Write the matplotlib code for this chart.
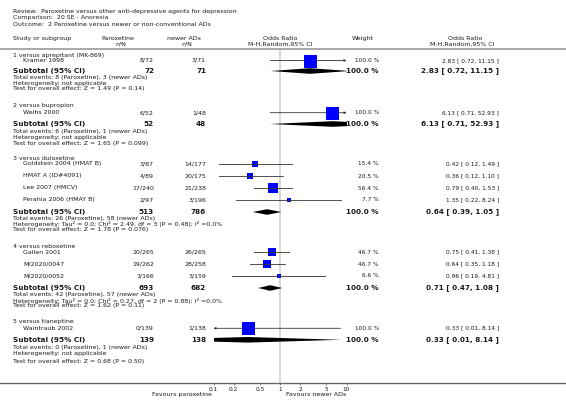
import numpy as np
import matplotlib.pyplot as plt
from matplotlib.lines import Line2D

# Data
review_lines = [
    "Review:  Paroxetine versus other anti-depressive agents for depression",
    "Comparison:  20 SE - Anorexia",
    "Outcome:  2 Paroxetine versus newer or non-conventional ADs",
]
group_titles = [
    "1 versus aprepitant (MK-869)",
    "2 versus bupropion",
    "3 versus duloxetine",
    "4 versus reboxetine",
    "5 versus tianeptine",
]
study_names = [
    ["Kramer 1998"],
    ["Weihs 2000"],
    ["Goldstein 2004 (HMAT B)", "HMAT A (ID#4091)", "Lee 2007 (HMCV)", "Perahia 2006 (HMAY B)"],
    ["Gallen 2001", "M/2020/0047", "M/2020/0052"],
    ["Waintraub 2002"],
]
par_events = [[8], [6], [3, 4, 17, 2], [20, 19, 3], [0]]
par_totals = [[72], [52], [87, 89, 240, 97], [265, 262, 166], [139]]
new_events = [[3], [1], [14, 20, 21, 3], [26, 28, 3], [1]]
new_totals = [[71], [48], [177, 175, 238, 196], [265, 258, 159], [138]]
study_or = [[2.83], [6.13], [0.42, 0.36, 0.79, 1.35], [0.75, 0.64, 0.96], [0.33]]
study_lo = [[0.72], [0.71], [0.12, 0.12, 0.40, 0.22], [0.41, 0.35, 0.19], [0.01]]
study_hi = [[11.15], [52.93], [1.49, 1.10, 1.53, 8.24], [1.38, 1.18, 4.81], [8.14]]
study_weight = [[100.0], [100.0], [15.4, 20.5, 56.4, 7.7], [46.7, 46.7, 6.6], [100.0]]
sub_or = [2.83, 6.13, 0.64, 0.71, 0.33]
sub_lo = [0.72, 0.71, 0.39, 0.47, 0.01]
sub_hi = [11.15, 52.93, 1.05, 1.08, 8.14]
heterogeneity = [
    "Heterogeneity: not applicable",
    "Heterogeneity: not applicable",
    "Heterogeneity: Tau\u00b2 = 0.0; Chi\u00b2 = 2.49, df = 3 (P = 0.48); I\u00b2 =0.0%",
    "Heterogeneity: Tau\u00b2 = 0.0; Chi\u00b2 = 0.27, df = 2 (P = 0.88); I\u00b2 =0.0%",
    "Heterogeneity: not applicable",
]
overall_effect = [
    "Test for overall effect: Z = 1.49 (P = 0.14)",
    "Test for overall effect: Z = 1.65 (P = 0.099)",
    "Test for overall effect: Z = 1.78 (P = 0.076)",
    "Test for overall effect: Z = 1.62 (P = 0.11)",
    "Test for overall effect: Z = 0.68 (P = 0.50)",
]
tick_values = [0.1, 0.2, 0.5, 1, 2, 5, 10]
tick_labels = ["0.1", "0.2", "0.5", "1", "2", "5", "10"]

# Row layout (pixel rows of the 566x413 canvas)
W, H = 566, 413
header_y = [55.5, 106, 158, 246, 322]
study_y = [[60.5], [112.7], [164, 176, 188, 200], [252.3, 264, 275.7], [328.3]]
sub_y = [71, 124, 212, 288, 339.8]
foot_y = [[77.5, 83, 88.5], [132, 138, 144], [218.5, 224, 229.5],
          [294.5, 300.5, 306], [347.7, 354, 361]]

FS = 4.5
FSB = 5.2
TXT = "#1a1a1a"


def fx(px):
    return px / W


def fy(py):
    return 1 - py / H


fig = plt.figure(figsize=(W / 100, H / 100), dpi=100)


def put(x, y, s, ha="left", size=FS, bold=False):
    fig.text(fx(x), fy(y), s, ha=ha, va="center", fontsize=size,
             fontweight="bold" if bold else "normal", color=TXT)


for i, s in enumerate(review_lines):
    put(13, 11.5 + 6.5 * i, s)

# column headers
put(13, 38.5, "Study or subgroup")
put(118, 38.5, "Paroxetine", ha="center")
put(121, 44.5, "n/N", ha="center")
put(184, 38.5, "newer ADs", ha="center")
put(187, 44.5, "n/N", ha="center")
put(280, 38.5, "Odds Ratio", ha="center")
put(280, 44.5, "M-H,Random,95% CI", ha="center")
put(363, 38.5, "Weight", ha="center")
put(465, 38.5, "Odds Ratio", ha="center")
put(462, 44.5, "M-H,Random,95% CI", ha="center")

fig.add_artist(Line2D([0, 1], [fy(48.5)] * 2, color="#9a9a9a", lw=1.2))
fig.add_artist(Line2D([0, 1], [fy(383)] * 2, color="#666666", lw=1.0))

# forest panel: log odds ratio axis
ax = fig.add_axes([fx(213.5), fy(383), 133 / W, (383 - 49) / H])
ax.set_xscale("log")
ax.set_xlim(0.1, 10)
ax.set_ylim(383, 49)
ax.patch.set_alpha(0)
for sp in ax.spines.values():
    sp.set_visible(False)
ax.set_yticks([])
ax.set_xticks(tick_values)
ax.set_xticklabels(tick_labels)
ax.minorticks_off()
ax.tick_params(axis="x", length=1.5, width=0.6, color="#666666",
               labelsize=4.2, pad=1.2, labelcolor=TXT)
ax.axvline(1, color="#d6d6d6", lw=1.4, zorder=0)

lo_lim, hi_lim = ax.get_xlim()

for g in range(len(group_titles)):
    put(13, header_y[g], group_titles[g])
    for k, name in enumerate(study_names[g]):
        y = study_y[g][k]
        put(23, y, name)
        put(154, y, f"{par_events[g][k]}/{par_totals[g][k]}", ha="right")
        put(206, y, f"{new_events[g][k]}/{new_totals[g][k]}", ha="right")
        put(379, y, f"{study_weight[g][k]:.1f} %", ha="right", size=4.2)
        put(499, y, f"{study_or[g][k]:.2f} [ {study_lo[g][k]:.2f}, {study_hi[g][k]:.2f} ]",
            ha="right", size=4.2)

        est, lo, hi = study_or[g][k], study_lo[g][k], study_hi[g][k]
        x0, x1 = max(lo, lo_lim), min(hi, hi_lim)
        if hi > hi_lim:
            ax.annotate("", xy=(x1, y), xytext=(x0, y), annotation_clip=False,
                        arrowprops=dict(arrowstyle="-|>", lw=0.6, color="#333333",
                                        mutation_scale=3, shrinkA=0, shrinkB=0))
        elif lo < lo_lim:
            ax.annotate("", xy=(x0, y), xytext=(x1, y), annotation_clip=False,
                        arrowprops=dict(arrowstyle="-|>", lw=0.6, color="#333333",
                                        mutation_scale=3, shrinkA=0, shrinkB=0))
        else:
            ax.plot([x0, x1], [y, y], color="#333333", lw=0.6, zorder=4)
        side_px = max(13 * np.sqrt(study_weight[g][k] / 100), 3.6)
        ax.scatter([est], [y], marker="s", s=(side_px * 0.72) ** 2,
                   color="#0000ff", linewidths=0, zorder=3)

    y = sub_y[g]
    put(13, y, "Subtotal (95% CI)", size=FSB, bold=True)
    put(154, y, f"{sum(par_totals[g])}", ha="right", size=FSB, bold=True)
    put(206, y, f"{sum(new_totals[g])}", ha="right", size=FSB, bold=True)
    put(379, y, "100.0 %", ha="right", size=FSB, bold=True)
    put(499, y, f"{sub_or[g]:.2f} [ {sub_lo[g]:.2f}, {sub_hi[g]:.2f} ]",
        ha="right", size=FSB, bold=True)
    ax.fill([sub_lo[g], sub_or[g], sub_hi[g], sub_or[g]],
            [y, y - 2.8, y, y + 2.8], color="black", lw=0, zorder=3)

    put(13, foot_y[g][0],
        f"Total events: {sum(par_events[g])} (Paroxetine), {sum(new_events[g])} (newer ADs)")
    put(13, foot_y[g][1], heterogeneity[g])
    put(13, foot_y[g][2], overall_effect[g])

put(212, 394.5, "Favours paroxetine", ha="right")
put(286, 394.5, "Favours newer ADs")

fig.savefig("out.png", dpi=100)
